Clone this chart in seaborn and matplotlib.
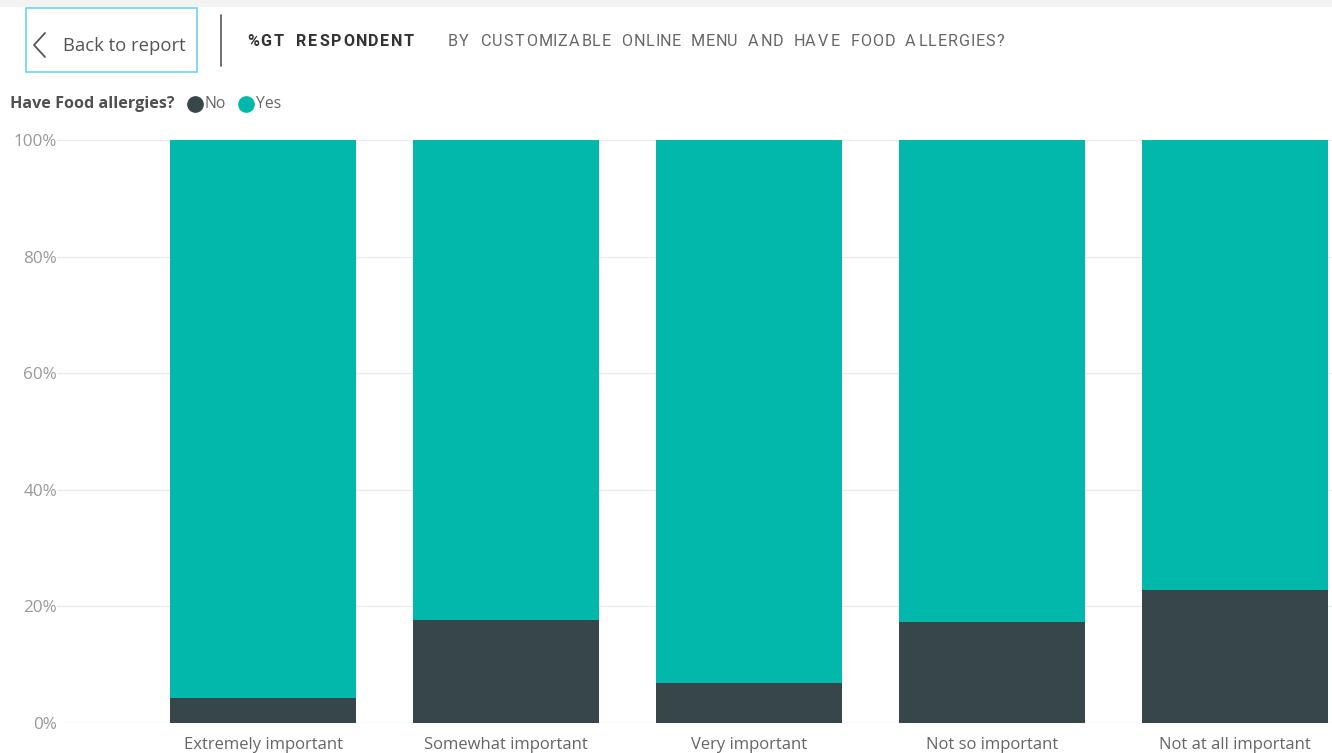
import matplotlib
matplotlib.use("Agg")
import matplotlib.pyplot as plt
from matplotlib.patches import Rectangle
from matplotlib.lines import Line2D
from matplotlib.textpath import TextPath
from matplotlib.font_manager import FontProperties
import seaborn as sns
import pandas as pd

# Share of respondents by importance of a customizable online menu
categories = ["Extremely important", "Somewhat important", "Very important",
              "Not so important", "Not at all important"]
no_allergy = [4.3, 17.6, 6.8, 17.4, 22.8]
yes_allergy = [95.7, 82.4, 93.2, 82.6, 77.2]
y_ticks = [0, 20, 40, 60, 80, 100]
y_tick_labels = ["0%", "20%", "40%", "60%", "80%", "100%"]

TEAL = "#01B8AA"
DARK = "#374649"

W, H = 1332, 753
sns.set_theme(style="white")
plt.rcParams["font.family"] = ["Open Sans", "DejaVu Sans"]

fig = plt.figure(figsize=(W / 100, H / 100), dpi=100)
fig.patch.set_facecolor("white")


def fx(px):
    return px / W


def fy(py):
    return 1 - py / H


def spaced_text(x0, x1, y, s, size, color, weight="normal", family="Roboto"):
    """Draw s between pixel x0 and x1 with even letter spacing."""
    fp = FontProperties(family=family, weight=weight, size=size)
    widths = [TextPath((0, 0), ch, prop=fp).get_extents().width if ch != " "
              else TextPath((0, 0), "n", prop=fp).get_extents().width * 1.0
              for ch in s]
    # points -> pixels
    widths = [w * 100 / 72 for w in widths]
    gap = ((x1 - x0) - sum(widths)) / (len(s) - 1)
    x = x0
    for ch, w in zip(s, widths):
        if ch != " ":
            fig.text(fx(x), fy(y), ch, fontsize=size, color=color, fontweight=weight,
                     family=family, va="center", ha="left")
        x += w + gap


# plot area
ax_left, ax_right, ax_top, ax_bottom = 57, 1332, 140, 723
ax = fig.add_axes([fx(ax_left), fy(ax_bottom), fx(ax_right - ax_left), (ax_bottom - ax_top) / H])

df = pd.DataFrame({"cat": categories, "No": no_allergy, "Yes": yes_allergy})

sns.barplot(data=df, x="cat", y="No", color=DARK, saturation=1, width=0.765,
            linewidth=0, ax=ax, zorder=3)
sns.barplot(data=df, x="cat", y="Yes", bottom=df["No"].values, color=TEAL,
            saturation=1, width=0.765, linewidth=0, ax=ax, zorder=3)

ax.set_xlim(-0.848, 4.40)
ax.set_ylim(0, 100)
ax.set_yticks(y_ticks)
ax.set_yticklabels(y_tick_labels)
ax.set_xlabel("")
ax.set_ylabel("")
for s in ax.spines.values():
    s.set_visible(False)
ax.grid(axis="y", color="#ebebeb", linewidth=1, zorder=0)
ax.grid(axis="x", visible=False)
ax.tick_params(axis="y", length=0, pad=0, labelsize=12.3, labelcolor="#999999")
ax.tick_params(axis="x", length=0, pad=10, labelsize=12.0, labelcolor="#666666")
ax.set_facecolor("none")

# top band
fig.add_artist(Rectangle((0, fy(7)), 1, 7 / H, transform=fig.transFigure,
                         facecolor="#f3f3f3", edgecolor="none"))

# back button
fig.add_artist(Rectangle((fx(26), fy(72)), fx(171), 64 / H, transform=fig.transFigure,
                         facecolor="white", edgecolor="#6fd3ea", linewidth=1.2))
fig.add_artist(Line2D([fx(45), fx(34), fx(45)], [fy(33), fy(45), fy(57)],
                      transform=fig.transFigure, color="#555555", linewidth=1.3))
fig.text(fx(63), fy(46), "Back to report", fontsize=13.3, color="#555555",
         va="center", ha="left")
fig.add_artist(Line2D([fx(221), fx(221)], [fy(15), fy(66)],
                      transform=fig.transFigure, color="#555555", linewidth=1.2))

# header
spaced_text(247, 413, 41, "%GT RESPONDENT", 11.6, "#333333", weight="bold")
spaced_text(448, 1003, 41, "BY CUSTOMIZABLE ONLINE MENU AND HAVE FOOD ALLERGIES?",
            11.6, "#666666")

# legend
fig.text(fx(10), fy(104), "Have Food allergies?", fontsize=11.6, fontweight="bold",
         color="#505050", va="center", ha="left")
fig.add_artist(Line2D([fx(195)], [fy(104)], marker="o", markersize=11,
                      color=DARK, transform=fig.transFigure, linestyle="none"))
fig.text(fx(205), fy(104), "No", fontsize=11.3, color="#666666", va="center", ha="left")
fig.add_artist(Line2D([fx(246)], [fy(104)], marker="o", markersize=11,
                      color=TEAL, transform=fig.transFigure, linestyle="none"))
fig.text(fx(256), fy(104), "Yes", fontsize=11.3, color="#666666", va="center", ha="left")

fig.savefig("out.png", dpi=100, facecolor="white")
